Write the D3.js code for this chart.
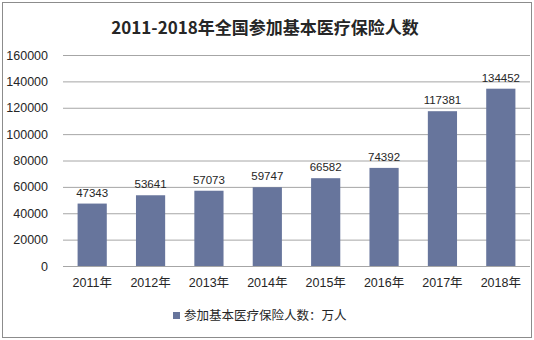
<!DOCTYPE html>
<html>
<head>
<meta charset="utf-8">
<script src="https://cdn.jsdelivr.net/npm/d3@7/dist/d3.min.js"></script>
<style>
  html, body { margin: 0; padding: 0; background: #fff; }
  svg { display: block; font-family: "Liberation Sans", Arial, "Noto Sans CJK SC", sans-serif; }
</style>
</head>
<body>
<svg id="chart" width="534" height="340"></svg>
<script>
// Insured population in basic medical insurance, 10k persons
const years = ["2011年", "2012年", "2013年", "2014年", "2015年", "2016年", "2017年", "2018年"];
const insured = [47343, 53641, 57073, 59747, 66582, 74392, 117381, 134452];
const yTicks = [0, 20000, 40000, 60000, 80000, 100000, 120000, 140000, 160000];
const titleText = "2011-2018年全国参加基本医疗保险人数";
const legendText = "参加基本医疗保险人数：万人";

const svg = d3.select("#chart");
const W = 534, H = 340;
const barColor = "#67759c";

// outer frame
svg.append("rect")
  .attr("x", 2.5).attr("y", 2.5)
  .attr("width", W - 5).attr("height", H - 5)
  .attr("fill", "#fff").attr("stroke", "#8c8c8c").attr("stroke-width", 1);

const plotL = 63, plotR = 530, plotT = 55, plotB = 266;

const x = d3.scaleBand().domain(years).range([plotL, plotR]).paddingInner(0.5).paddingOuter(0.25);
const y = d3.scaleLinear().domain([0, 160000]).range([plotB, plotT]);

// title
svg.append("text")
  .attr("x", 265).attr("y", 34)
  .attr("text-anchor", "middle")
  .attr("font-family", "'Noto Sans CJK SC', sans-serif")
  .attr("font-weight", "bold")
  .attr("font-size", 17)
  .attr("fill", "#262626")
  .text(titleText);

// gridlines
const yAxis = d3.axisLeft(y).tickValues(yTicks).tickFormat(d3.format("d"))
  .tickSize(-(plotR - plotL)).tickPadding(15);
const gy = svg.append("g").attr("transform", `translate(${plotL},0)`).call(yAxis);
gy.select(".domain").remove();
gy.selectAll(".tick line").attr("stroke", "#a6a6a6").attr("stroke-width", 1);
gy.selectAll(".tick text")
  .attr("font-size", 12.5).attr("fill", "#262626")
  .attr("font-family", "'Liberation Sans', Arial, sans-serif");

// bars
svg.append("g").selectAll("rect")
  .data(insured)
  .join("rect")
  .attr("x", (d, i) => x(years[i]))
  .attr("y", d => y(d))
  .attr("width", x.bandwidth())
  .attr("height", d => y(0) - y(d))
  .attr("fill", barColor);

// value labels
svg.append("g").selectAll("text")
  .data(insured)
  .join("text")
  .attr("x", (d, i) => x(years[i]) + x.bandwidth() / 2)
  .attr("y", d => y(d) - 7)
  .attr("text-anchor", "middle")
  .attr("font-size", 11.5)
  .attr("fill", "#262626")
  .attr("font-family", "'Liberation Sans', Arial, sans-serif")
  .text(d => d);

// x axis
const xAxis = d3.axisBottom(x).tickSize(0).tickPadding(12);
const gx = svg.append("g").attr("transform", `translate(0,${plotB})`).call(xAxis);
gx.select(".domain").attr("stroke", "#a6a6a6").attr("d", `M${plotL},0.5H${plotR}`);
gx.selectAll(".tick text")
  .attr("font-size", 12.5).attr("fill", "#262626")
  .attr("font-family", "'Liberation Sans', Arial, 'Noto Sans CJK SC', sans-serif");

// legend
const lg = svg.append("g").attr("transform", "translate(173,316)");
lg.append("rect").attr("x", 0).attr("y", -4).attr("width", 7).attr("height", 7).attr("fill", barColor);
lg.append("text")
  .attr("x", 11).attr("y", 0).attr("dy", "0.35em")
  .attr("font-size", 12.5).attr("fill", "#262626")
  .attr("font-family", "'Noto Sans CJK SC', sans-serif")
  .text(legendText);
</script>
</body>
</html>
